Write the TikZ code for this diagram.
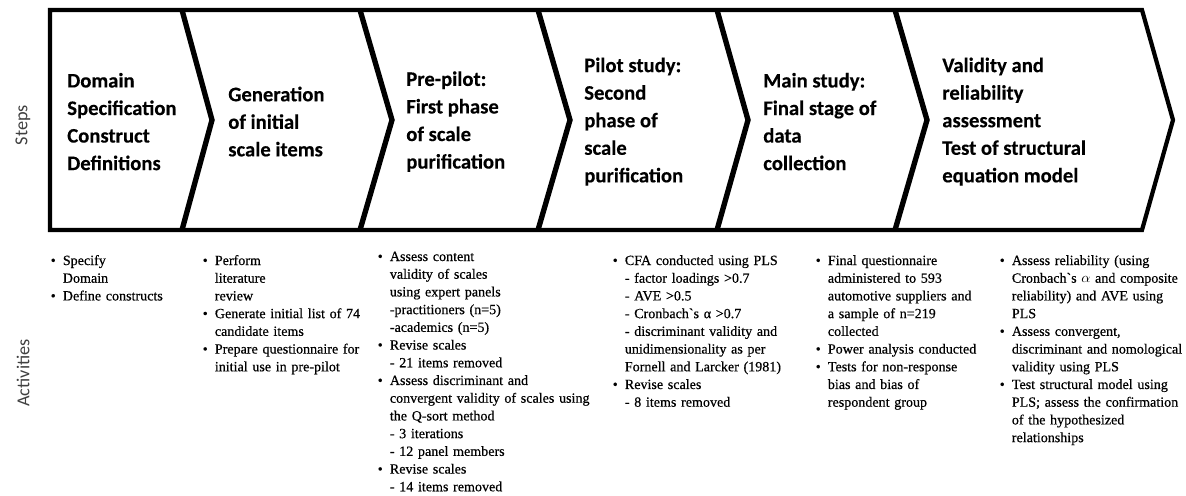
\documentclass[tikz,border=0pt]{standalone}
\usepackage{fontspec}
\setmainfont{Liberation Serif}
\newfontfamily\actfont{Liberation Serif}[FakeBold=0.5]
\newfontfamily\stepfont{Carlito}[BoldFeatures={FakeBold=0.3}]
\usepackage{enumitem}
\setlist[itemize]{nosep, leftmargin=0.34cm, labelsep=0.18cm, label=\textbullet}
\usetikzlibrary{positioning}

\begin{document}
\begin{tikzpicture}[
  stepbox/.style={anchor=west, align=left, inner sep=0pt, font=\stepfont\bfseries\fontsize{14.7}{19.6}\selectfont},
  actbox/.style={anchor=north west, text width=6cm, inner sep=0pt, font=\actfont\fontsize{10}{12.6}\selectfont},
  rowlabel/.style={rotate=90, inner sep=0pt, text=black!75, font=\stepfont\fontsize{13}{15}\selectfont},
  band/.style={line width=3pt, line join=miter},
  divider/.style={line width=3.8pt, line join=miter}
]
  \useasboundingbox (0,0) rectangle (29.65,-12.375);

  % the band of steps
  \draw[band] (1.25,-0.25) -- (28.55,-0.25) -- (29.325,-3.0) -- (28.55,-5.75) -- (1.25,-5.75) -- cycle;
  \foreach \xa/\xb in {4.55/5.3, 9.0/9.8, 13.45/14.25, 17.925/18.7, 22.375/23.175}
    \draw[divider] (\xa,-0.25) -- (\xb,-3.0) -- (\xa,-5.75);

  \node[rowlabel] (steps) at (0.575, -3.125) {Steps};
  \node[rowlabel] (activities) at (0.575, -9.325) {Activities};

  \node[stepbox] (domain) at (1.675, -3.04) {Domain\\Specification\\Construct\\Definitions};
  \node[stepbox] (generation) at (5.7, -3.04) {Generation\\of initial\\scale items};
  \node[stepbox] (prepilot) at (10.15, -3.04) {Pre-pilot:\\First phase\\of scale\\purification};
  \node[stepbox] (pilot) at (14.6, -3.04) {Pilot study:\\Second\\phase of\\scale\\purification};
  \node[stepbox] (mainstudy) at (19.075, -3.04) {Main study:\\Final stage of\\data\\collection};
  \node[stepbox] (validity) at (23.55, -3.04) {Validity and\\reliability\\assessment\\Test of structural\\equation model};

  % activities under each step
  \node[actbox] (actdomain) at (1.225, -6.175) {\begin{itemize}
    \item Specify\\Domain
    \item Define constructs
  \end{itemize}};
  \node[actbox] (actgeneration) at (5.025, -6.175) {\begin{itemize}
    \item Perform\\literature\\review
    \item Generate initial list of 74\\candidate items
    \item Prepare questionnaire for\\initial use in pre-pilot
  \end{itemize}};
  \node[actbox] (actprepilot) at (9.4, -6.075) {\begin{itemize}
    \item Assess content\\validity of scales\\using expert panels\\-practitioners (n=5)\\-academics (n=5)
    \item Revise scales\\- 21 items removed
    \item Assess discriminant and\\convergent validity of scales using\\the Q-sort method\\- 3 iterations\\- 12 panel members
    \item Revise scales\\- 14 items removed
  \end{itemize}};
  \node[actbox] (actpilot) at (15.275, -6.175) {\begin{itemize}
    \item CFA conducted using PLS\\- factor loadings >0.7\\- AVE >0.5\\- Cronbach`s α >0.7\\- discriminant validity and\\unidimensionality as per\\Fornell and Larcker (1981)
    \item Revise scales\\- 8 items removed
  \end{itemize}};
  \node[actbox] (actmain) at (20.35, -6.175) {\begin{itemize}
    \item Final questionnaire\\administered to 593\\automotive suppliers and\\a sample of n=219\\collected
    \item Power analysis conducted
    \item Tests for non-response\\bias and bias of\\respondent group
  \end{itemize}};
  \node[actbox] (actvalidity) at (24.95, -6.175) {\begin{itemize}
    \item Assess reliability (using\\Cronbach`s $\alpha$ and composite\\reliability) and AVE using\\PLS
    \item Assess convergent,\\discriminant and nomological\\validity using PLS
    \item Test structural model using\\PLS; assess the confirmation\\of the hypothesized\\relationships
  \end{itemize}};
\end{tikzpicture}
\end{document}
